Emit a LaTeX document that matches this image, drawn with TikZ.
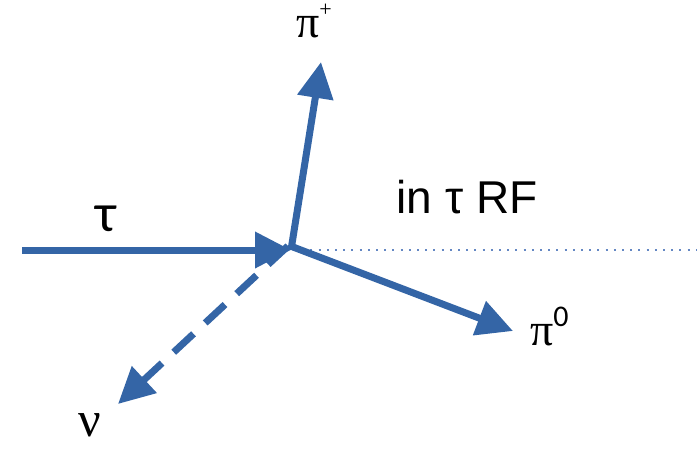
\documentclass[tikz,border=0pt]{standalone}
\usepackage{fontspec}
\setmainfont{Liberation Serif}
\newfontfamily\sansf{Liberation Sans}
\newfontfamily\calf{Carlito}
\usetikzlibrary{arrows.meta}
\definecolor{arrblue}{RGB}{52,101,166}
\definecolor{dotblue}{RGB}{100,135,195}
\tikzset{
  particle/.style={draw=arrblue, line width=7pt, -{Triangle[length=36pt,width=35pt]}},
  lbl/.style={inner sep=0pt, text=black},
}
\begin{document}
\begin{tikzpicture}[x=1pt,y=-1pt]
\useasboundingbox (0,0) rectangle (697,448);
\coordinate (s) at (22,250);
\coordinate (c) at (291,250);
\coordinate (pp) at (321,62);
\coordinate (p0) at (513,331);
\coordinate (nu) at (118,404);
\coordinate (e) at (697,250);
\draw[dotblue, line width=2pt, dash pattern=on 2pt off 6.2pt] (294,250) -- (e);
\draw[particle] (s) -- (c);
\draw[particle] (c) -- (pp);
\draw[particle] ([xshift=2pt,yshift=3pt]c) -- (p0);
\draw[particle, dash pattern=on 27pt off 16pt] ([xshift=-3pt,yshift=4pt]c) -- (nu);
\node[lbl, font=\calf\fontsize{54}{56}\selectfont, anchor=base] (tau) at (106,231) {τ};
\node[lbl, font=\sansf\fontsize{46}{50}\selectfont, anchor=base] (rf) at (467,213) {in τ RF};
\node[lbl, font=\fontsize{46}{48}\selectfont, anchor=base west] (pip) at (296,37) {π\raisebox{0.45em}{\fontsize{22}{24}\selectfont +}};
\node[lbl, font=\fontsize{46}{48}\selectfont, anchor=base west] (pi0) at (530,345) {π\raisebox{0.4em}{\calf\fontsize{30}{32}\selectfont 0}};
\node[lbl, font=\fontsize{50}{54}\selectfont, anchor=base] (nul) at (90,436) {ν};
\end{tikzpicture}
\end{document}
